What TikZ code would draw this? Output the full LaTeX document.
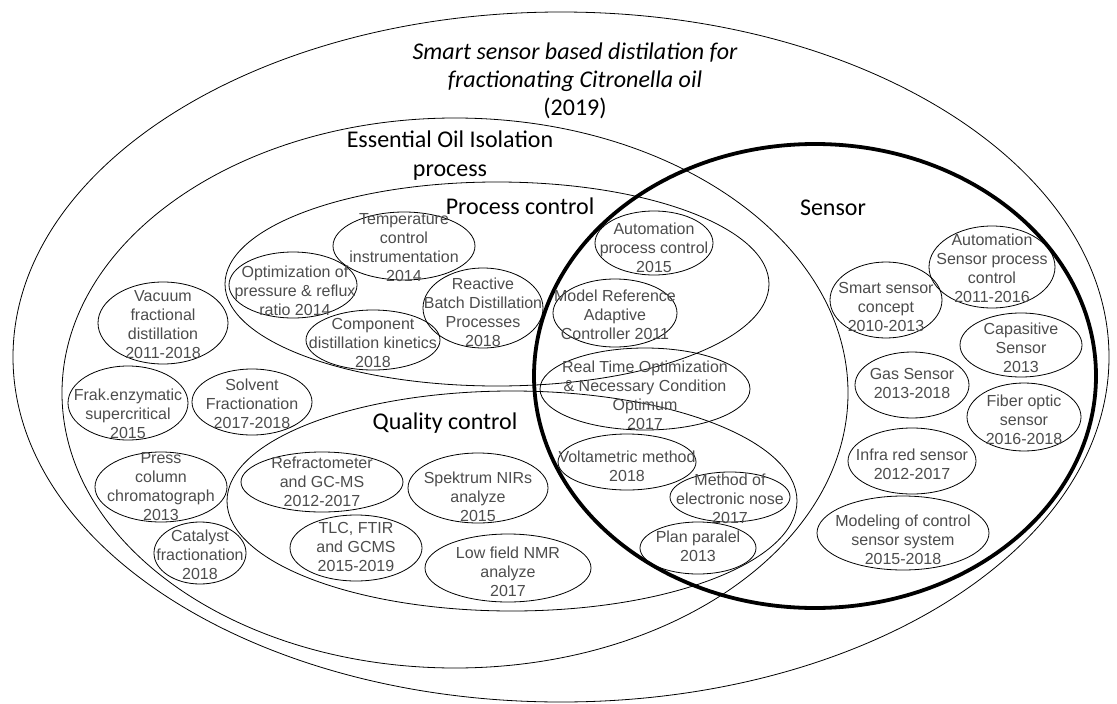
\documentclass[tikz,border=0pt]{standalone}
\usepackage{fontspec}
\newfontfamily\arialf{Liberation Sans}
\newfontfamily\calib{Carlito}
\usepackage{tikz}
\usetikzlibrary{shapes.geometric}

\tikzset{
  oval/.style 2 args={ellipse, draw, line width=0.8pt, minimum width=#1, minimum height=#2, inner sep=0pt},
  txt/.style={font=\arialf\fontsize{16}{19}\selectfont, text=black!70, align=center, inner sep=0pt},
  head/.style={font=\calib\fontsize{24}{29}\selectfont, align=center, inner sep=0pt},
}

\begin{document}
\begin{tikzpicture}[x=1pt, y=-1pt]
\useasboundingbox (0,0) rectangle (1117,704);

% First, the big sets
\node[oval={1096}{690}] (whole) at (561,357) {};
\node[oval={786}{550}] (isol) at (455,393) {};
\node[oval={544}{204}] (proc) at (497,284) {};
\node[oval={570}{220}] (qual) at (512,501) {};
\node[oval={562}{464}, line width=3.8pt] (sens) at (815,376) {};

% titles of the sets
\node[head, font=\calib\fontsize{24}{28}\selectfont] (title) at (575,81)
  {{\itshape Smart sensor based distilation for}\\{\itshape fractionating Citronella oil}\\(2019)};
\node[head] (isol-t) at (450,156) {Essential Oil Isolation\\process};
\node[head] (proc-t) at (520,206) {Process control};
\node[head] (sens-t) at (833,208) {Sensor};
\node[head] (qual-t) at (445,423) {Quality control};

% Process control
\node[oval={142}{68}] (tempc) at (404,246) {};
\node[txt] (tempc-t) at (404,248) {Temperature\\control\\instrumentation\\2014};
\node[oval={128}{66}] (optim) at (293,285) {};
\node[txt] (optim-t) at (295,291) {Optimization of\\pressure \& reflux\\ratio 2014};
\node[oval={134}{60}] (compd) at (373,340) {};
\node[txt] (compd-t) at (373,343) {Component\\distillation kinetics\\2018};
\node[oval={120}{80}] (react) at (483,308) {};
\node[txt] (react-t) at (483,312) {Reactive\\Batch Distillation\\Processes\\2018};
\node[oval={118}{64}] (autop) at (654,243) {};
\node[txt] (autop-t) at (654,248) {Automation\\process control\\2015};
\node[oval={124}{68}] (mrac) at (615,313) {};
\node[txt] (mrac-t) at (615,315) {Model Reference\\Adaptive\\Controller 2011};
\node[oval={210}{82}] (rto) at (645,389) {};
\node[txt] (rto-t) at (645,395) {Real Time Optimization\\\& Necessary Condition\\Optimum\\2017};

% Quality control
\node[oval={138}{56}] (volt) at (627,462) {};
\node[txt] (volt-t) at (627,466) {Voltametric method\\2018};
\node[oval={120}{50}] (enose) at (730,497) {};
\node[txt] (enose-t) at (730,499) {Method of\\electronic nose\\2017};
\node[oval={116}{52}] (plan) at (698,548) {};
\node[txt] (plan-t) at (698,546) {Plan paralel\\2013};
\node[oval={162}{60}] (refr) at (322,482) {};
\node[txt] (refr-t) at (322,482) {Refractometer\\and GC-MS\\2012-2017};
\node[oval={140}{70}] (nirs) at (478,488) {};
\node[txt] (nirs-t) at (478,497) {Spektrum NIRs\\analyze\\2015};
\node[oval={132}{66}] (tlc) at (356,548) {};
\node[txt] (tlc-t) at (356,547) {TLC, FTIR\\and GCMS\\2015-2019};
\node[oval={166}{68}] (nmr) at (508,568) {};
\node[txt] (nmr-t) at (508,572) {Low field NMR\\analyze\\2017};

% Isolation process
\node[oval={130}{82}] (vacuum) at (163,323) {};
\node[txt] (vacuum-t) at (163,325) {Vacuum\\fractional\\distillation\\2011-2018};
\node[oval={120}{74}] (frak) at (128,403) {};
\node[txt] (frak-t) at (128,414) {Frak.enzymatic\\supercritical\\2015};
\node[oval={120}{66}] (solv) at (252,402) {};
\node[txt] (solv-t) at (252,404) {Solvent\\Fractionation\\2017-2018};
\node[oval={132}{70}] (press) at (161,487) {};
\node[txt] (press-t) at (161,487) {Press\\column\\chromatograph\\2013};
\node[oval={92}{62}] (catal) at (200,553) {};
\node[txt] (catal-t) at (200,555) {Catalyst\\fractionation\\2018};

% Sensor
\node[oval={126}{82}] (autos) at (992,267) {};
\node[txt] (autos-t) at (992,268) {Automation\\Sensor process\\control\\2011-2016};
\node[oval={112}{76}] (smart) at (886,300) {};
\node[txt] (smart-t) at (886,307) {Smart sensor\\concept\\2010-2013};
\node[oval={122}{64}] (capas) at (1021,345) {};
\node[txt] (capas-t) at (1021,348) {Capasitive\\Sensor\\2013};
\node[oval={114}{66}] (gas) at (912,385) {};
\node[txt] (gas-t) at (912,383) {Gas Sensor\\2013-2018};
\node[oval={114}{68}] (fiber) at (1024,417) {};
\node[txt] (fiber-t) at (1024,420) {Fiber optic\\sensor\\2016-2018};
\node[oval={128}{66}] (infra) at (912,461) {};
\node[txt] (infra-t) at (912,464) {Infra red sensor\\2012-2017};
\node[oval={172}{74}] (model) at (903,533) {};
\node[txt] (model-t) at (903,540) {Modeling of control\\sensor system\\2015-2018};

\end{tikzpicture}
\end{document}
